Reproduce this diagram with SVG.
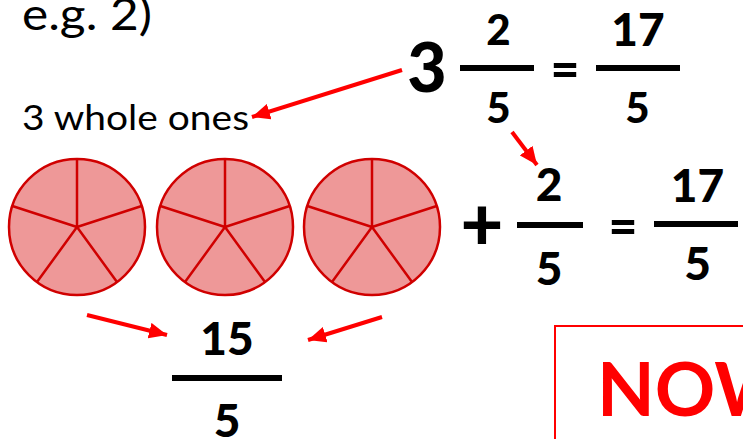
<svg xmlns="http://www.w3.org/2000/svg" width="743" height="439" viewBox="0 0 743 439">
<style>
.t{font-family:Lato,"Open Sans","Liberation Sans",sans-serif;fill:#000}
.b{font-weight:900;text-anchor:middle}
.bar{stroke:#000;stroke-width:6;fill:none}
.arr{stroke:#FF0000;stroke-width:4;fill:none;marker-end:url(#ah)}
</style>
<defs>
<marker id="ah" markerUnits="userSpaceOnUse" markerWidth="20" markerHeight="16" refX="18" refY="8" orient="auto">
<path d="M0,0 L18,8 L0,16 z" fill="#FF0000"/>
</marker>
<g id="pieShape">
<circle cx="0" cy="0" r="68" fill="#EE9898" stroke="#D00000" stroke-width="2.5"/>
<path d="M0,0 V-68 M0,0 L64.7,-21 M0,0 L40,55 M0,0 L-40,55 M0,0 L-64.7,-21" fill="none" stroke="#D00000" stroke-width="2.5"/>
</g>
</defs>
<g id="header"><text class="t" x="22" y="30" font-size="44" textLength="130" lengthAdjust="spacingAndGlyphs">e.g. 2)</text></g>
<g id="label-whole"><text class="t" x="22" y="130" font-size="34" textLength="227" lengthAdjust="spacingAndGlyphs">3 whole ones</text></g>
<g id="eq-top">
<text class="t b" x="427" y="92" font-size="68">3</text>
<text class="t b" x="498.5" y="45" font-size="42">2</text>
<line class="bar" x1="460" y1="68" x2="534" y2="68"/>
<text class="t b" x="498.5" y="123" font-size="42">5</text>
<text class="t b" x="565" y="87" font-size="50">=</text>
<text class="t b" x="638" y="45.5" font-size="46">17</text>
<line class="bar" x1="596" y1="68" x2="680" y2="68"/>
<text class="t b" x="637.5" y="123" font-size="42">5</text>
</g>
<g id="pies">
<use href="#pieShape" x="77" y="227"/>
<use href="#pieShape" x="225" y="227"/>
<use href="#pieShape" x="372" y="227"/>
</g>
<g id="eq-mid">
<text class="t b" x="482" y="250" font-size="74">+</text>
<text class="t b" x="549" y="201" font-size="46">2</text>
<line class="bar" x1="517" y1="225" x2="583" y2="225" stroke-width="8"/>
<text class="t b" x="549" y="285" font-size="46">5</text>
<text class="t b" x="623" y="244" font-size="50">=</text>
<text class="t b" x="697.5" y="202" font-size="46">17</text>
<line class="bar" x1="654" y1="224" x2="738" y2="224"/>
<text class="t b" x="697.5" y="280" font-size="46">5</text>
</g>
<g id="eq-bottom">
<text class="t b" x="227" y="355" font-size="46">15</text>
<line class="bar" x1="172" y1="378" x2="282" y2="378" stroke-width="7"/>
<text class="t b" x="227" y="437" font-size="46">5</text>
</g>
<g id="now-box">
<rect x="555" y="326" width="200" height="130" fill="none" stroke="#FF0000" stroke-width="2"/>
<text x="597" y="416" font-size="75" font-weight="bold" fill="#FF0000" font-family="Lato,'Open Sans','Liberation Sans',sans-serif">NOW</text>
</g>
<g id="connectors">
<line class="arr" x1="402" y1="70" x2="252" y2="117"/>
<line class="arr" x1="512" y1="132" x2="537" y2="165"/>
<line class="arr" x1="87" y1="315" x2="167" y2="335"/>
<line class="arr" x1="382" y1="317" x2="308" y2="340"/>
</g>
</svg>
